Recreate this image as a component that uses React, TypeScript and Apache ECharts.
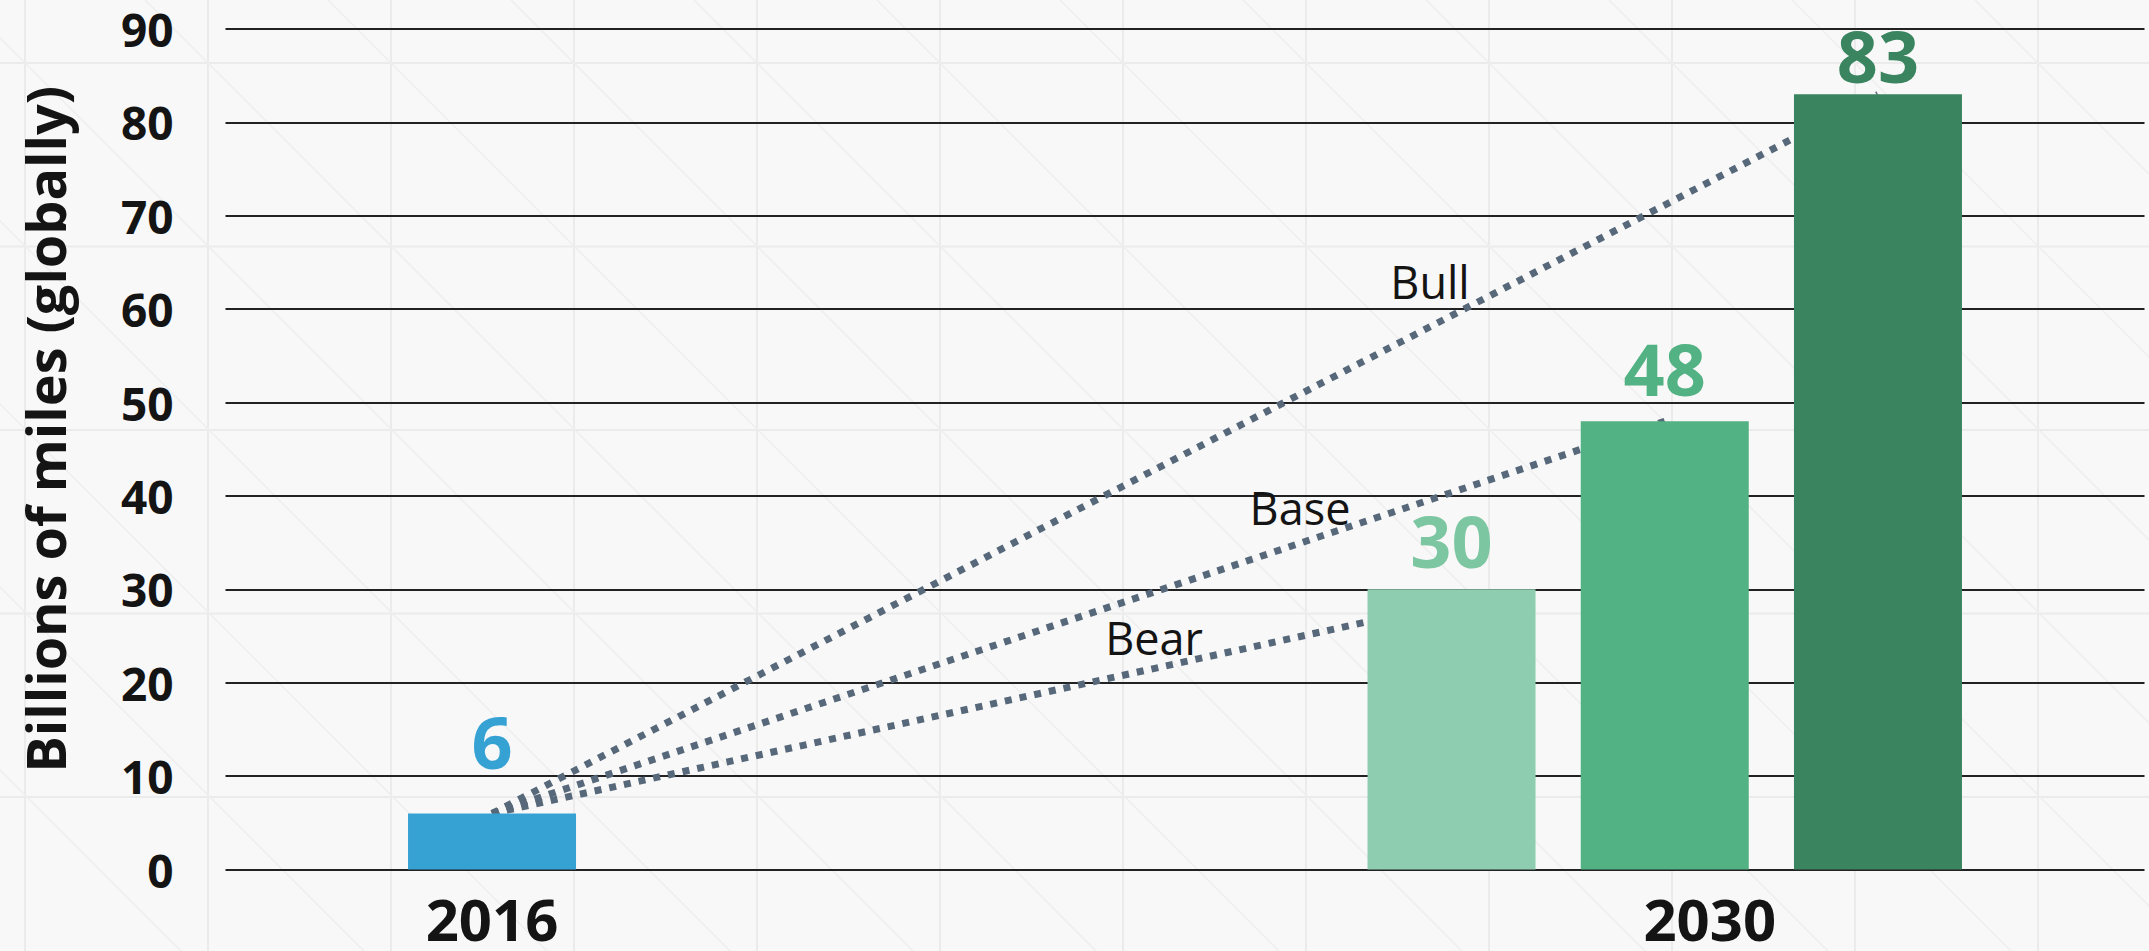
import React, { useEffect, useRef } from "react";
import * as echarts from "echarts";

// ---- data ----
const years = ["2016", "2030"];
const scenarios = ["Bear", "Base", "Bull"];
const miles2016 = [6];
const miles2030 = [30, 48, 83];
// value each dotted projection line points at (under the 2030 bars)
const projectionTargets = [28.5, 48, 83];
const yTickMin = 0;
const yTickMax = 90;
const yTickStep = 10;
const yAxisTitle = "Billions of miles (globally)";

// ---- styling ----
const color2016 = "#36a2d4";
const barColors2030 = ["#8ecdaf", "#52b283", "#3a8560"];
const labelColors2030 = ["#7cc6a1", "#52b283", "#3a8560"];
const labelDistance2016 = 36;
const labelDistances2030 = [13, 17, 3];
const lineColor = "#566879";
const textColor = "#141414";

// ---- slot layout of the category axis ----
const SLOT_COUNT = 18;
const SLOT_2016 = 2;
const SLOTS_2030 = [11, 13, 15];

export default function App() {
  const ref = useRef<HTMLDivElement>(null);

  useEffect(() => {
    if (!ref.current) return;
    const chart = echarts.init(ref.current, undefined, { renderer: "svg" });

    const categories: string[] = Array.from({ length: SLOT_COUNT }, (_, i) => "slot" + i);
    categories[SLOT_2016] = years[0];
    SLOTS_2030.forEach((s, i) => (categories[s] = scenarios[i]));

    const barData: any[] = categories.map(() => "-");
    barData[SLOT_2016] = {
      value: miles2016[0],
      itemStyle: { color: color2016 },
      label: { color: color2016, distance: labelDistance2016 },
    };
    SLOTS_2030.forEach((s, i) => {
      barData[s] = {
        value: miles2030[i],
        itemStyle: { color: barColors2030[i] },
        label: { color: labelColors2030[i], distance: labelDistances2030[i] },
      };
    });

    const lineSeries = scenarios.map((sc, i) => ({
      type: "line",
      name: sc,
      data: [
        [years[0], miles2016[0]],
        [sc, projectionTargets[i]],
      ],
      symbol: "none",
      silent: true,
      z: 1,
      lineStyle: { color: lineColor, width: 7, type: [7, 8], cap: "butt" },
    }));

    // faint background pattern
    const bg: any[] = [];
    for (let k = 0; k < 12; k++) {
      const x = 25 + 183 * k;
      bg.push({ type: "line", shape: { x1: x, y1: 0, x2: x, y2: 951 }, style: { stroke: "#ebebeb", lineWidth: 2 } });
    }
    for (let k = 0; k < 5; k++) {
      const y = 63 + 183.5 * k;
      bg.push({ type: "line", shape: { x1: 0, y1: y, x2: 2149, y2: y }, style: { stroke: "#ebebeb", lineWidth: 2 } });
    }
    for (let k = -6; k < 13; k++) {
      const c = -38 + 183 * k;
      bg.push({ type: "line", shape: { x1: c, y1: 0, x2: c + 951, y2: 951 }, style: { stroke: "#eeeeee", lineWidth: 1.5 } });
    }

    const scenarioLabelPos = [
      [1154, 637],
      [1300, 507],
      [1430, 281],
    ];

    chart.setOption({
      animation: false,
      backgroundColor: "#f8f8f8",
      grid: { left: 225.5, right: 4.5, top: 29, bottom: 81.5 },
      xAxis: {
        type: "category",
        data: categories,
        axisLine: { show: false },
        axisTick: { show: false },
        splitLine: { show: false },
        axisLabel: {
          interval: 0,
          margin: 24,
          formatter: (v: string) => {
            if (v === years[0]) return "{a|" + years[0] + "}";
            if (v === scenarios[1]) return "{b|" + years[1] + "}";
            return "";
          },
          rich: {
            a: { fontFamily: "Open Sans", fontWeight: "bold", fontSize: 58, lineHeight: 50, color: textColor },
            b: {
              fontFamily: "Open Sans",
              fontWeight: "bold",
              fontSize: 58,
              lineHeight: 50,
              color: textColor,
              padding: [0, 0, 0, 90],
            },
          },
        },
      },
      yAxis: {
        type: "value",
        min: yTickMin,
        max: yTickMax,
        interval: yTickStep,
        axisLine: { show: false },
        axisTick: { show: false },
        splitLine: { show: true, lineStyle: { color: "#222", width: 2 } },
        axisLabel: {
          margin: 52,
          fontFamily: "Open Sans",
          fontWeight: "bold",
          fontSize: 46,
          lineHeight: 38,
          color: textColor,
        },
        name: yAxisTitle,
        nameLocation: "middle",
        nameGap: 154,
        nameRotate: 90,
        nameTextStyle: {
          fontFamily: "Open Sans",
          fontWeight: "bold",
          fontSize: 54,
          color: textColor,
          padding: [0, 0, 0, 40],
        },
      },
      series: [
        ...lineSeries,
        {
          type: "bar",
          data: barData,
          barWidth: 168,
          z: 3,
          label: {
            show: true,
            position: "top",
            fontFamily: "Open Sans",
            fontWeight: "bold",
            fontSize: 72,
          },
        },
      ],
      graphic: [
        { type: "group", z: -10, silent: true, children: bg },
        ...scenarios.map((sc, i) => ({
          type: "text",
          z: 100,
          x: scenarioLabelPos[i][0],
          y: scenarioLabelPos[i][1],
          style: {
            text: sc,
            fontFamily: "Open Sans",
            fontSize: 45,
            fill: textColor,
            align: "center",
            verticalAlign: "middle",
          },
        })),
      ],
    });

    return () => chart.dispose();
  }, []);

  return (
    <div
      ref={ref}
      style={{ position: "fixed", left: 0, top: 0, width: 2149, height: 951 }}
    />
  );
}
